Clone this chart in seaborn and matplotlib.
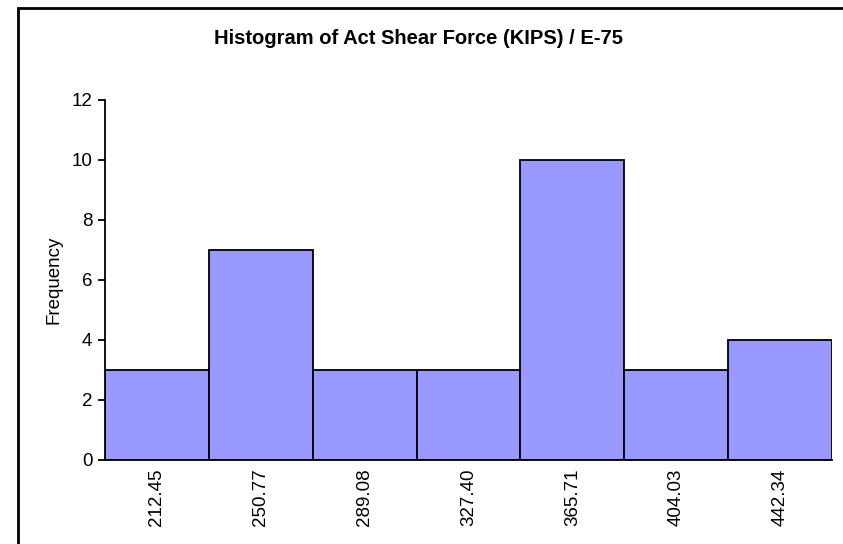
import matplotlib
matplotlib.use("Agg")
import matplotlib.pyplot as plt
import seaborn as sns
import pandas as pd
from matplotlib.patches import Rectangle

bins = ["212.45", "250.77", "289.08", "327.40", "365.71", "404.03", "442.34"]
freq = [3, 7, 3, 3, 10, 3, 4]
yticks = [0, 2, 4, 6, 8, 10, 12]

sns.set_theme(style="white")
plt.rcParams['font.family'] = ['Liberation Sans', 'DejaVu Sans']
plt.rcParams['text.color'] = 'black'
plt.rcParams['xtick.color'] = 'black'
plt.rcParams['ytick.color'] = 'black'
plt.rcParams['axes.labelcolor'] = 'black'

df = pd.DataFrame({"bin": bins, "freq": freq})

W, H = 843, 544
fig = plt.figure(figsize=(W / 100, H / 100), dpi=100)
ax = fig.add_axes([105 / W, 1 - 460 / H, (832 - 105) / W, (460 - 100) / H])

sns.barplot(data=df, x="bin", y="freq", color="#9999FF", saturation=1,
            width=1.0, edgecolor="black", linewidth=1.3, ax=ax)

ax.set_xlim(-0.5, len(bins) - 0.5)
ax.set_ylim(0, 12)
ax.set_yticks(yticks)
ax.set_yticklabels([str(v) for v in yticks], fontsize=13.5)
ax.set_xticks(range(len(bins)))
ax.set_xticklabels(bins, rotation=90, fontsize=13.5)
ax.tick_params(axis="y", direction="out", length=5, width=1.3, color="black", pad=4, left=True)
ax.tick_params(axis="x", length=0, pad=6)
ax.set_xlabel("")
ax.set_ylabel("Frequency", fontsize=13.5)
ax.yaxis.set_label_coords((62 - 105) / (832 - 105), 0.5)
for s in ["top", "right"]:
    ax.spines[s].set_visible(False)
for s in ["left", "bottom"]:
    ax.spines[s].set_color("black")
    ax.spines[s].set_linewidth(1.3)

fig.text(418 / W, 1 - 38.5 / H, "Histogram of Act Shear Force (KIPS) / E-75",
         ha="center", va="center", fontsize=14.5, fontweight="bold")

fig.patches.append(Rectangle((17.5 / W, -0.1), 2, 1 - 7.5 / H + 0.1,
                             transform=fig.transFigure, fill=False,
                             edgecolor="black", linewidth=2))

fig.savefig("out.png", dpi=100, facecolor="white")
